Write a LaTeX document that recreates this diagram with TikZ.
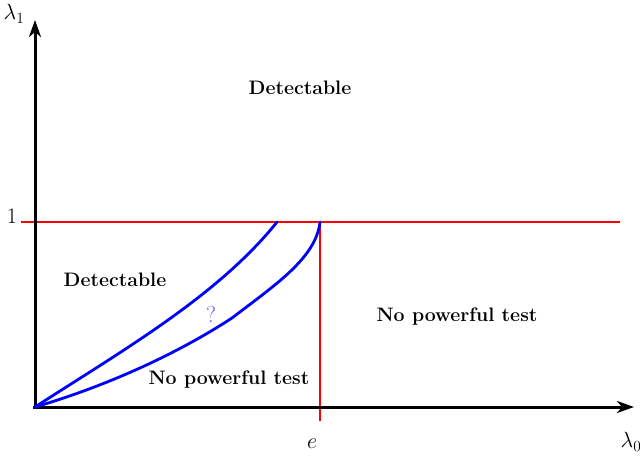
\RequirePackage{fix-cm}
\documentclass[tikz,border=0pt]{standalone}
\usetikzlibrary{arrows.meta}
\begin{document}
\begin{tikzpicture}[x=1pt,y=-1pt,
  axis/.style={line width=3pt,-{Stealth[length=17pt,width=12pt,inset=5pt]}},
  redline/.style={red,line width=2.8pt},
  blueline/.style={blue,line width=2.8pt,line cap=round,line join=round},
  region/.style={font=\fontsize{19.5}{21}\selectfont\bfseries},
  ticklab/.style={font=\fontsize{22}{24}\selectfont}]
\useasboundingbox (0,0) rectangle (640,456);
\coordinate (O) at (35,407);
\coordinate (ytip) at (35,20);
\coordinate (xtip) at (634,407);
\coordinate (hl) at (21,222);
\coordinate (hr) at (620,222);
\coordinate (vt) at (320,222);
\coordinate (vb) at (320,421);
\coordinate (u) at (277,222);
\coordinate (k) at (232,318);
\draw[redline] (hl) -- (hr);
\draw[redline] (vt) -- (vb);
\draw[axis] (35,409) -- (ytip);
\draw[axis] (33,407) -- (xtip);
\draw[blueline] (O) .. controls (120,352) and (218,296) .. (u);
\draw[blueline] (O) .. controls (110,385) and (180,352) .. (k)
  .. controls (275,285) and (316,258) .. (vt);
\node[ticklab] (l1) at (14,14) {$\lambda_1$};
\node[ticklab] (l0) at (631,442) {$\lambda_0$};
\node[ticklab] (one) at (12,216) {$1$};
\node[ticklab] (e) at (312,444) {$e$};
\node[region] (d1) at (300,88) {Detectable};
\node[region] (d2) at (115,280) {Detectable};
\node[region] (n1) at (457,317) {No powerful test};
\node[region] (n2) at (229,380) {No powerful test};
\node[blue!65,font=\fontsize{23}{25}\selectfont] (q) at (211,314) {?};
\end{tikzpicture}
\end{document}
